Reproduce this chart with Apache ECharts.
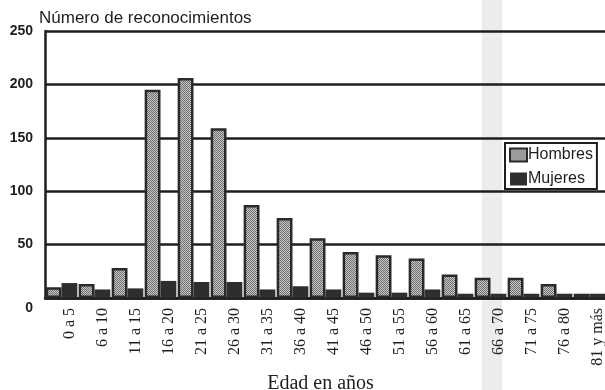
<!DOCTYPE html>
<html>
<head>
<meta charset="utf-8">
<script src="https://cdn.jsdelivr.net/npm/echarts@6/dist/echarts.min.js"></script>
<style>
  html, body { margin: 0; padding: 0; background: #fff; }
  #chart { width: 605px; height: 390px; }
</style>
</head>
<body>
<div id="chart"></div>
<script>
const ageGroups = ['0 a 5', '6 a 10', '11 a 15', '16 a 20', '21 a 25', '26 a 30', '31 a 35', '36 a 40',
  '41 a 45', '46 a 50', '51 a 55', '56 a 60', '61 a 65', '66 a 70', '71 a 75', '76 a 80', '81 y más'];
const hombres = [10, 13, 28, 195, 206, 159, 87, 75, 56, 43, 40, 37, 22, 19, 19, 13, 4];
const mujeres = [14, 8, 9, 16, 15, 15, 8, 11, 8, 5, 5, 8, 4, 4, 4, 4, 4];
const yTicks = [0, 50, 100, 150, 200, 250];

// fine checker fill used for the Hombres bars
const pat = document.createElement('canvas');
pat.width = 2;
pat.height = 2;
const pctx = pat.getContext('2d');
pctx.fillStyle = '#c6c6c6';
pctx.fillRect(0, 0, 2, 2);
pctx.fillStyle = '#707070';
pctx.fillRect(0, 0, 1, 1);
pctx.fillRect(1, 1, 1, 1);

const chart = echarts.init(document.getElementById('chart'));
const ink = '#1e1e1e';
const labelFont = { fontFamily: 'Liberation Sans', fontWeight: 'bold', fontSize: 14, color: ink };

chart.setOption({
  backgroundColor: '#fff',
  animation: false,
  graphic: [
    { type: 'rect', z: -10, shape: { x: 482, y: 0, width: 20, height: 390 }, style: { fill: '#ececec' } }
  ],
  legend: {
    orient: 'vertical',
    left: 505,
    top: 143,
    padding: [4, 4, 2, 4],
    itemGap: 8,
    itemWidth: 17,
    itemHeight: 13,
    icon: 'rect',
    backgroundColor: '#fff',
    borderColor: ink,
    borderWidth: 2,
    textStyle: { fontFamily: 'Liberation Sans', fontSize: 16, color: ink, padding: [0, 0, 0, -4] },
    data: ['Hombres', 'Mujeres']
  },
  grid: { left: 45, top: 31, width: 561, height: 267, containLabel: false, outerBoundsMode: 'none' },
  xAxis: {
    type: 'category',
    data: ageGroups,
    name: 'Edad en años',
    nameLocation: 'middle',
    nameGap: 72,
    nameTextStyle: { fontFamily: 'Liberation Serif', fontSize: 20, color: ink, padding: [0, 10, 0, 0] },
    axisLine: { lineStyle: { color: ink, width: 2.5 } },
    axisTick: { show: false },
    axisLabel: {
      rotate: 90,
      interval: 0,
      margin: 10,
      verticalAlign: 'top',
      fontFamily: 'Liberation Serif',
      fontSize: 16,
      color: ink
    }
  },
  yAxis: [
    {
      type: 'value',
      min: yTicks[0],
      max: yTicks[yTicks.length - 1],
      interval: 50,
      name: 'Número de reconocimientos',
      nameLocation: 'end',
      nameGap: 4,
      nameTextStyle: { fontFamily: 'Liberation Sans', fontSize: 17, color: ink, align: 'left', padding: [0, 0, 0, -6] },
      axisLine: { show: true, lineStyle: { color: ink, width: 2.5 } },
      axisTick: { show: false },
      splitLine: { lineStyle: { color: ink, width: 2.5 } },
      axisLabel: Object.assign({ margin: 12, showMinLabel: false }, labelFont)
    },
    {
      // carries only the "0" label, which sits lower than the baseline in the original
      type: 'value',
      position: 'left',
      min: yTicks[0],
      max: yTicks[yTicks.length - 1],
      interval: 50,
      axisLine: { show: false },
      axisTick: { show: false },
      splitLine: { show: false },
      axisLabel: Object.assign({
        margin: 12,
        verticalAlign: 'top',
        padding: [3, 0, 0, 0],
        formatter: (v) => (v === yTicks[0] ? String(v) : '')
      }, labelFont)
    }
  ],
  series: [
    {
      name: 'Hombres',
      type: 'bar',
      data: hombres,
      barGap: '0%',
      barCategoryGap: '4%',
      itemStyle: { color: { image: pat, repeat: 'repeat' }, borderColor: '#2a2a2a', borderWidth: 2.5 }
    },
    {
      name: 'Mujeres',
      type: 'bar',
      data: mujeres,
      barGap: '0%',
      barCategoryGap: '4%',
      itemStyle: { color: '#2e2e2e' }
    }
  ]
});
</script>
</body>
</html>
